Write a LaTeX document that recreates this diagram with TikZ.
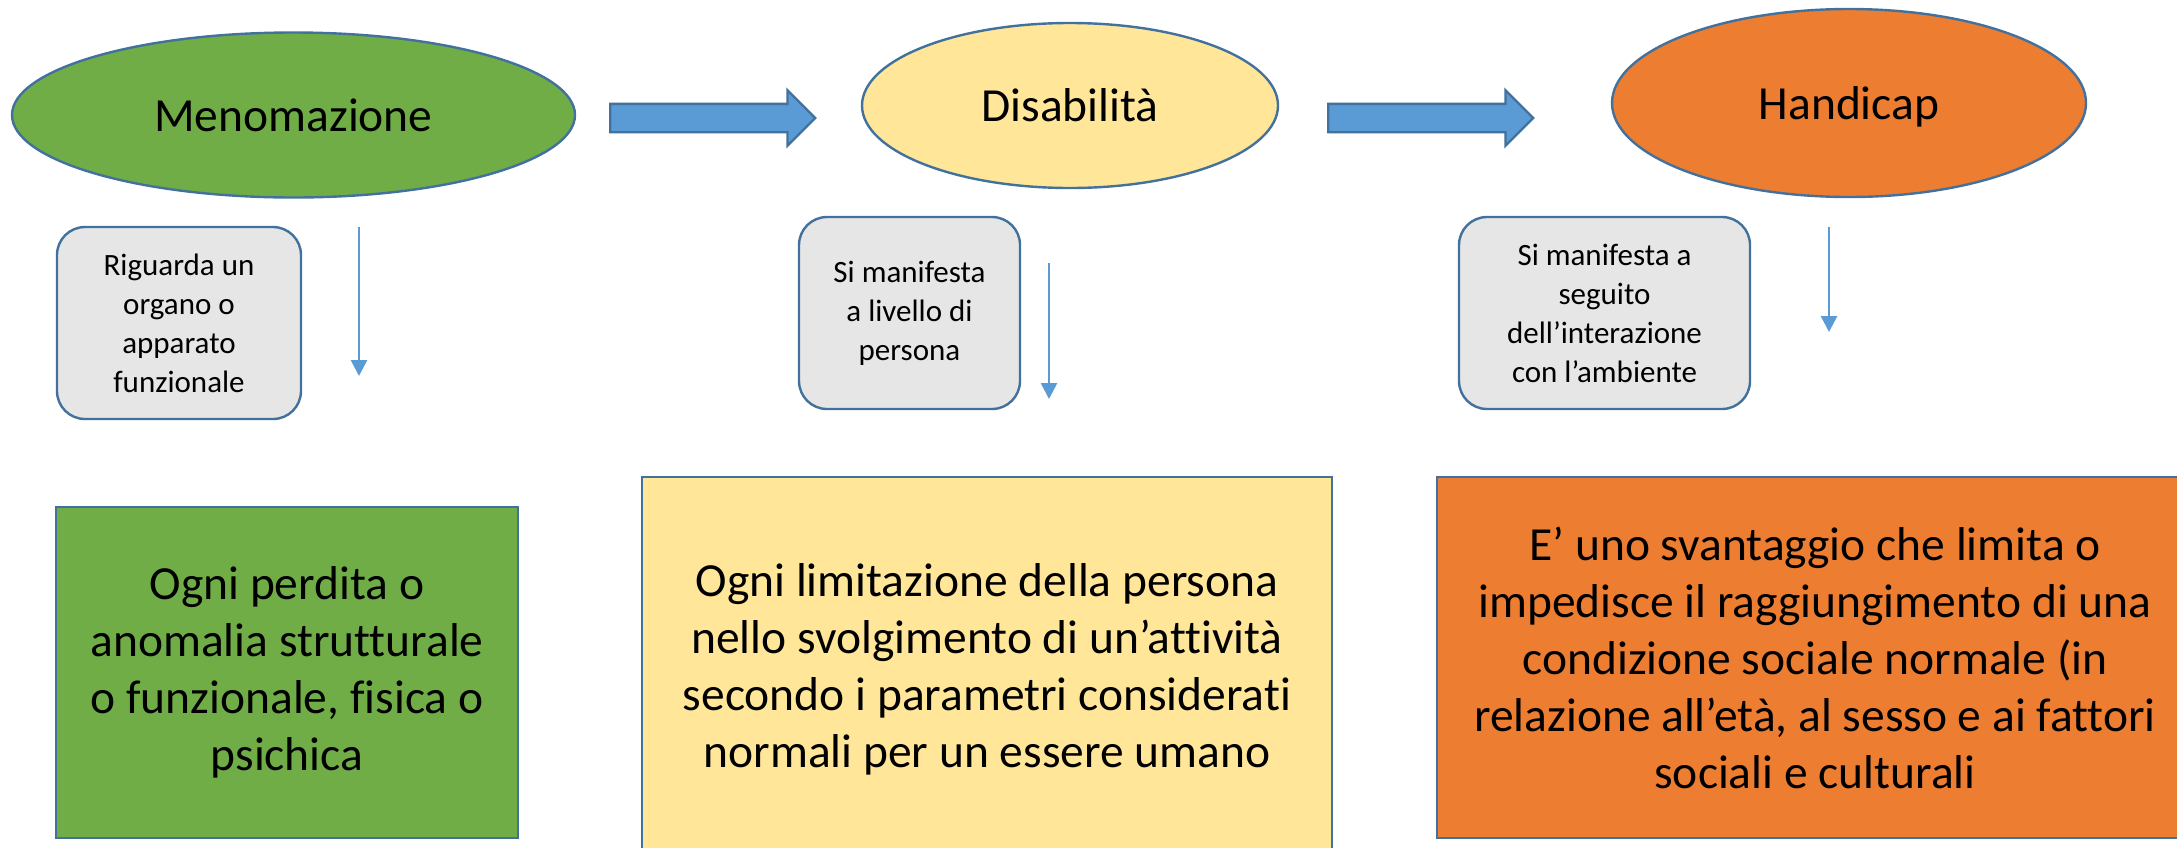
\documentclass[tikz,border=0pt]{standalone}
\usepackage{fontspec}
\setmainfont[Ligatures={NoCommon}]{Carlito}
\usetikzlibrary{shapes.geometric,shapes.arrows,arrows.meta}
\definecolor{cgreen}{HTML}{70AD47}
\definecolor{cyellow}{HTML}{FFE699}
\definecolor{corange}{HTML}{ED7D31}
\definecolor{cblue}{HTML}{5B9BD5}
\definecolor{cborder}{HTML}{41719C}
\definecolor{cgray}{HTML}{E7E6E6}
\begin{document}
\begin{tikzpicture}[x=0.5pt,y=-0.5pt,
  oval/.style={ellipse,draw=cborder,line width=1.2pt,inner sep=0pt,text depth=0pt,font=\fontsize{23.75}{28.5}\selectfont},
  bigarrow/.style={single arrow,draw=cborder,line width=1.2pt,fill=cblue,inner xsep=0pt,inner ysep=6.5pt,text height=0pt,text depth=0pt,single arrow head extend=6.75pt,minimum height=102.5pt,single arrow tip angle=90,single arrow head indent=0pt,anchor=tail},
  note/.style={rectangle,rounded corners=14pt,draw=cborder,line width=1.2pt,fill=cgray,align=center,inner sep=0pt,minimum height=96pt,font=\fontsize{15.5}{19.5}\selectfont},
  defbox/.style={rectangle,draw=cborder,line width=1.2pt,align=center,inner sep=0pt,font=\fontsize{23.75}{28.5}\selectfont},
  downarr/.style={draw=cblue,line width=1.3pt,-{Triangle[width=8pt,length=8pt]}}
]
\useasboundingbox (0,0) rectangle (2177,847);
\fill[white] (0,0) rectangle (2177,847);
\clip (0,0) rectangle (2177,847);

% top ovals
\node[oval,fill=cgreen,minimum width=281.5pt,minimum height=82.5pt] (men) at (293.5,115) {Menomazione};
\node[oval,fill=cyellow,minimum width=208pt,minimum height=82.5pt] (dis) at (1070,105.5) {Disabilità};
\node[oval,fill=corange,minimum width=237pt,minimum height=94pt] (han) at (1849,103) {Handicap};

% block arrows
\node[bigarrow] (a1) at (609,118) {};
\node[bigarrow] (a2) at (1327,118) {};

% grey notes
\node[note,minimum width=122pt] (n1) at (179,323) {Riguarda un\\organo o\\apparato\\funzionale};
\node[note,minimum width=110.5pt] (n2) at (909.5,313) {Si manifesta\\a livello di\\persona};
\node[note,minimum width=145.5pt] (n3) at (1604.5,313) {Si manifesta a\\seguito\\dell’interazione\\con l’ambiente};

% thin down arrows
\coordinate (d1s) at (359,227); \coordinate (d1e) at (359,376);
\coordinate (d2s) at (1049,263); \coordinate (d2e) at (1049,399);
\coordinate (d3s) at (1829,227); \coordinate (d3e) at (1829,332);
\draw[downarr] (d1s) -- (d1e);
\draw[downarr] (d2s) -- (d2e);
\draw[downarr] (d3s) -- (d3e);

% definition boxes
\node[defbox,fill=cgreen,minimum width=231pt,minimum height=165.5pt] (b1) at (287,672.5)
  {Ogni perdita o\\anomalia strutturale\\o funzionale, fisica o\\psichica};
\node[defbox,fill=cyellow,minimum width=345pt,minimum height=192.5pt] (b2) at (987,669.5)
  {Ogni limitazione della persona\\nello svolgimento di un’attività\\secondo i parametri considerati\\normali per un essere umano};
\node[defbox,fill=corange,minimum width=378pt,minimum height=180.5pt] (b3) at (1815,657.5)
  {E’ uno svantaggio che limita o\\impedisce il raggiungimento di una\\condizione sociale normale (in\\relazione all’età, al sesso e ai fattori\\sociali e culturali};
\end{tikzpicture}
\end{document}
